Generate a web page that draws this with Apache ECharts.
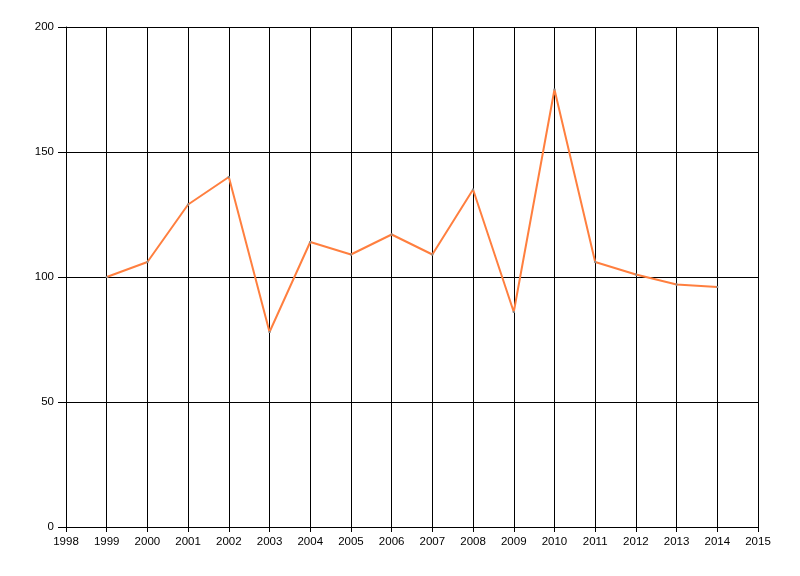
<!DOCTYPE html>
<html><head><meta charset="utf-8">
<script src="https://cdn.jsdelivr.net/npm/echarts@6/dist/echarts.min.js"></script>
<style>html,body{margin:0;padding:0;background:#fff}#c{width:800px;height:576px}</style>
</head><body><div id="c"></div>
<script>
const years = [1999,2000,2001,2002,2003,2004,2005,2006,2007,2008,2009,2010,2011,2012,2013,2014];
const values = [100,106,129,140,78,114,109,117,109,135,86,175,106,101,97,96];
const yTicks = [0,50,100,150,200];
const chart = echarts.init(document.getElementById('c'));
const font = {fontFamily:'Liberation Sans, Arial, sans-serif', fontSize:11.5, color:'#000'};
chart.setOption({
  animation:false,
  grid:{left:66, top:27, right:42, bottom:49, containLabel:false},
  xAxis:{type:'value', min:1998, max:2015, interval:1,
    axisLine:{show:true, lineStyle:{color:'#000', width:1}},
    axisTick:{show:true, length:5, lineStyle:{color:'#000'}},
    axisLabel:Object.assign({margin:9, formatter:v=>String(v)}, font),
    splitLine:{show:true, lineStyle:{color:'#000', width:1}}},
  yAxis:{type:'value', min:yTicks[0], max:yTicks[yTicks.length-1], interval:50,
    axisLine:{show:true, lineStyle:{color:'#000', width:1}},
    axisTick:{show:true, length:8, lineStyle:{color:'#000'}},
    axisLabel:Object.assign({margin:12}, font),
    splitLine:{show:true, lineStyle:{color:'#000', width:1}}},
  series:[{type:'line', data:years.map((y,i)=>[y,values[i]]),
    lineStyle:{color:'#FF7F3F', width:2},
    itemStyle:{color:'#888'},
    symbol:'rect', symbolSize:2, showSymbol:true}]
});
</script></body></html>
